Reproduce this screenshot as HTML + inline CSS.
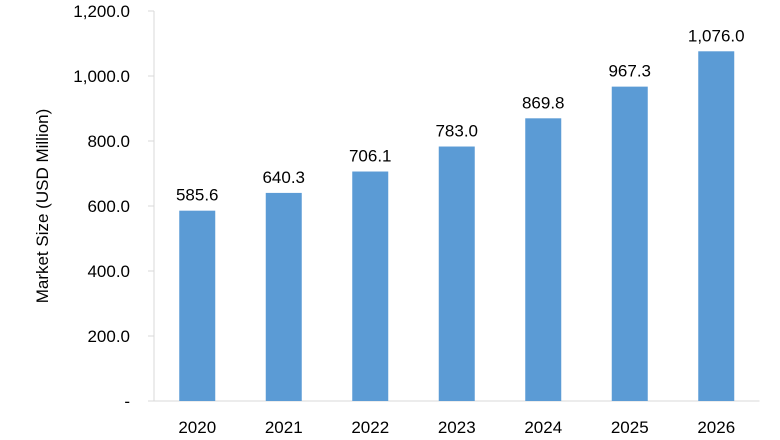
<!DOCTYPE html>
<html><head><meta charset="utf-8"><style>
body{margin:0;background:#fff}
svg{display:block;font-family:"Liberation Sans",Calibri,sans-serif}
</style></head><body>
<svg width="780" height="440">
<g id="g"></g>
</svg>
<script>
const categories=["2020","2021","2022","2023","2024","2025","2026"];
const values=[585.6,640.3,706.1,783.0,869.8,967.3,1076.0];
const valueLabels=["585.6","640.3","706.1","783.0","869.8","967.3","1,076.0"];
const yTicks=[0,200,400,600,800,1000,1200];
const yTickLabels=["-","200.0","400.0","600.0","800.0","1,000.0","1,200.0"];
const NS="http://www.w3.org/2000/svg";
const g=document.getElementById('g');
const x0=154,bw=86.5,y0=401,ppu=390/1200;
const y=v=>y0-v*ppu;
const xc=i=>x0+bw*(i+0.5);
function el(t,a,txt){const e=document.createElementNS(NS,t);for(const k in a)e.setAttribute(k,a[k]);if(txt!=null)e.textContent=txt;g.appendChild(e);return e;}
yTicks.forEach((t,i)=>{
 const l=el('line',{x1:148,x2:x0,y1:y(t),y2:y(t),stroke:'#d9d9d9'});
 
 
 const tx=el('text',{x:130,y:y(t)+6,'text-anchor':'end','font-size':17,fill:'#000'},yTickLabels[i]);
 
 
});
const ax=el('line',{x1:x0,x2:x0,y1:y(1200),y2:y0,stroke:'#d9d9d9'});


const bx=el('line',{x1:x0,x2:x0+bw*7,y1:y0,y2:y0,stroke:'#d9d9d9'});


categories.forEach((c,i)=>{
 const r=el('rect',{x:xc(i)-18,y:y(values[i]),width:36,height:values[i]*ppu,fill:'#5b9bd5'});
 
 
 const v=el('text',{x:xc(i),y:y(values[i])-10,'text-anchor':'middle','font-size':17},valueLabels[i]);
 
 
 const t=el('text',{x:xc(i),y:433,'text-anchor':'middle','font-size':17},c);
 
 
});
const yt=el('text',{x:0,y:0,'text-anchor':'middle','font-size':17,transform:'translate(48,206) rotate(-90)'},'Market Size (USD Million)');


</script>
</body></html>
